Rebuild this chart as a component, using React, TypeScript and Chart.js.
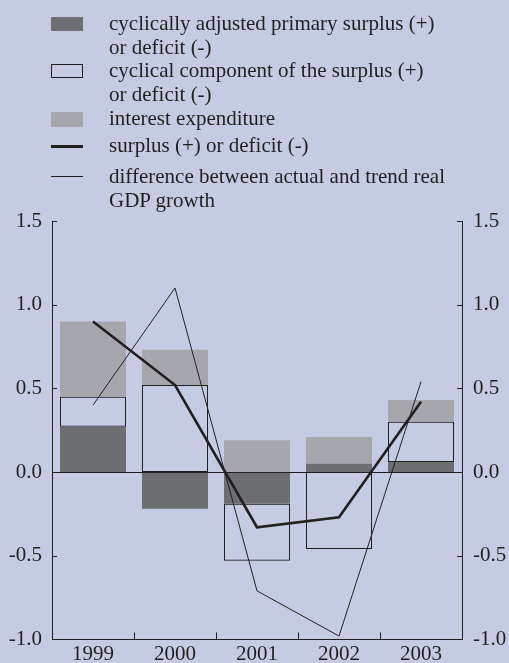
import React, { useEffect, useRef } from "react";
import { Chart, registerables } from "chart.js";

Chart.register(...registerables);

const years = ["1999", "2000", "2001", "2002", "2003"];
const cyclicallyAdjustedPrimary = [0.27, -0.22, -0.19, 0.05, 0.06];
const cyclicalComponent = [0.18, 0.52, -0.34, -0.46, 0.24];
const interestExpenditure = [0.45, 0.21, 0.19, 0.16, 0.13];
const surplusDeficit = [0.9, 0.52, -0.33, -0.27, 0.42];
const gdpGrowthGap = [0.4, 1.1, -0.71, -0.98, 0.54];
const yTicks = [-1.0, -0.5, 0.0, 0.5, 1.0, 1.5];

const legendItems = [
  { kind: "dark", lines: ["cyclically adjusted primary surplus (+)", "or deficit (-)"] },
  { kind: "white", lines: ["cyclical component of the surplus (+)", "or deficit (-)"] },
  { kind: "light", lines: ["interest expenditure"] },
  { kind: "thick", lines: ["surplus (+) or deficit (-)"] },
  { kind: "thin", lines: ["difference between actual and trend real", "GDP growth"] },
];

const BG = "#c6cbe4";
const INK = "#231f20";
const DARK = "#6d6e72";
const LIGHT = "#a6a7ac";
const FONT = "'Liberation Serif', 'Times New Roman', serif";

const legendTops = [12, 59, 107, 134, 165];

const axisDecor = {
  id: "axisDecor",
  afterDatasetsDraw(chart: any) {
    const ctx = chart.ctx;
    const area = chart.chartArea;
    const y = chart.scales.y;
    const x = chart.scales.x;
    ctx.save();
    ctx.strokeStyle = INK;
    ctx.lineWidth = 1;
    const y0 = Math.round(y.getPixelForValue(0)) + 0.5;
    ctx.beginPath();
    ctx.moveTo(area.left, y0);
    ctx.lineTo(area.right, y0);
    ctx.stroke();
    yTicks.forEach((v) => {
      const py = Math.round(y.getPixelForValue(v)) + 0.5;
      ctx.beginPath();
      ctx.moveTo(area.left, py);
      ctx.lineTo(area.left + 5, py);
      ctx.moveTo(area.right - 5, py);
      ctx.lineTo(area.right, py);
      ctx.stroke();
    });
    for (let i = 1; i < years.length; i++) {
      const px = Math.round((x.getPixelForValue(i - 1) + x.getPixelForValue(i)) / 2) + 0.5;
      ctx.beginPath();
      ctx.moveTo(px, area.bottom);
      ctx.lineTo(px, area.bottom - 7);
      ctx.stroke();
    }
    ctx.restore();
  },
};

function LegendSymbol({ kind }: { kind: string }) {
  const base: React.CSSProperties = { position: "absolute", left: 51, width: 32 };
  if (kind === "dark") return <div style={{ ...base, top: 5, height: 14, background: DARK }} />;
  if (kind === "light") return <div style={{ ...base, top: 5, height: 15, background: LIGHT }} />;
  if (kind === "white")
    return <div style={{ ...base, top: 5, height: 12, border: `1px solid ${INK}`, width: 30 }} />;
  if (kind === "thick") return <div style={{ ...base, top: 11, height: 3, background: INK }} />;
  return <div style={{ ...base, top: 11, height: 1, background: INK }} />;
}

export default function App() {
  const ref = useRef<HTMLCanvasElement | null>(null);

  useEffect(() => {
    if (!ref.current) return;
    const tickFont = { family: FONT, size: 21 };
    const chart = new Chart(ref.current, {
      type: "bar",
      data: {
        labels: years,
        datasets: [
          {
            type: "bar",
            label: "cyclically adjusted primary surplus (+) or deficit (-)",
            data: cyclicallyAdjustedPrimary,
            backgroundColor: DARK,
            borderWidth: 0,
            stack: "s",
            order: 1,
          },
          {
            type: "bar",
            label: "cyclical component of the surplus (+) or deficit (-)",
            data: cyclicalComponent,
            backgroundColor: "rgba(0,0,0,0)",
            borderColor: INK,
            borderWidth: 1,
            borderSkipped: false,
            stack: "s",
            order: 2,
          },
          {
            type: "bar",
            label: "interest expenditure",
            data: interestExpenditure,
            backgroundColor: LIGHT,
            borderWidth: 0,
            stack: "s",
            order: 3,
          },
          {
            type: "line",
            label: "surplus (+) or deficit (-)",
            data: surplusDeficit,
            borderColor: INK,
            borderWidth: 2.6,
            pointRadius: 0,
            tension: 0,
            stack: "l1",
            order: 0,
          },
          {
            type: "line",
            label: "difference between actual and trend real GDP growth",
            data: gdpGrowthGap,
            borderColor: INK,
            borderWidth: 1,
            pointRadius: 0,
            tension: 0,
            stack: "l2",
            order: 0,
          },
        ] as any,
      },
      options: {
        animation: false,
        responsive: false,
        maintainAspectRatio: false,
        layout: { padding: { top: 221, left: 0, right: 0, bottom: 0 } },
        datasets: { bar: { barPercentage: 0.805, categoryPercentage: 1 } } as any,
        plugins: { legend: { display: false }, tooltip: { enabled: false } },
        scales: {
          x: {
            stacked: true,
            offset: true,
            grid: { display: false, drawTicks: false, offset: true },
            border: { display: true, color: INK, width: 1 },
            ticks: { color: INK, font: tickFont, padding: 2, maxRotation: 0 },
            afterFit: (s: any) => {
              s.height = 22;
            },
          },
          y: {
            stacked: true,
            position: "left",
            min: -1,
            max: 1.5,
            grid: { display: false, drawTicks: false },
            border: { display: true, color: INK, width: 1 },
            ticks: {
              stepSize: 0.5,
              color: INK,
              font: tickFont,
              padding: 10,
              callback: (v: any) => Number(v).toFixed(1),
            },
            afterFit: (s: any) => {
              s.width = 52;
            },
          },
          y2: {
            position: "right",
            min: -1,
            max: 1.5,
            grid: { display: false, drawTicks: false },
            border: { display: true, color: INK, width: 1 },
            ticks: {
              stepSize: 0.5,
              color: INK,
              font: tickFont,
              padding: 11,
              callback: (v: any) => Number(v).toFixed(1),
            },
            afterBuildTicks: (s: any) => {
              s.ticks = yTicks.map((v) => ({ value: v }));
            },
            afterFit: (s: any) => {
              s.width = 47;
            },
          },
        },
      } as any,
      plugins: [axisDecor],
    });
    return () => chart.destroy();
  }, []);

  return (
    <div
      style={{
        position: "fixed",
        left: 0,
        top: 0,
        width: 509,
        height: 663,
        background: BG,
        overflow: "hidden",
      }}
    >
      <canvas ref={ref} width={509} height={663} style={{ position: "absolute", left: 0, top: 0 }} />
      {legendItems.map((item, i) => (
        <div
          key={i}
          style={{
            position: "absolute",
            left: 0,
            top: legendTops[i],
            width: 509,
            fontFamily: FONT,
            fontSize: 21,
            lineHeight: "23.5px",
            color: INK,
          }}
        >
          <LegendSymbol kind={item.kind} />
          <div style={{ position: "absolute", left: 109, top: 0, whiteSpace: "nowrap" }}>
            {item.lines.map((l, j) => (
              <div key={j}>{l}</div>
            ))}
          </div>
        </div>
      ))}
    </div>
  );
}
